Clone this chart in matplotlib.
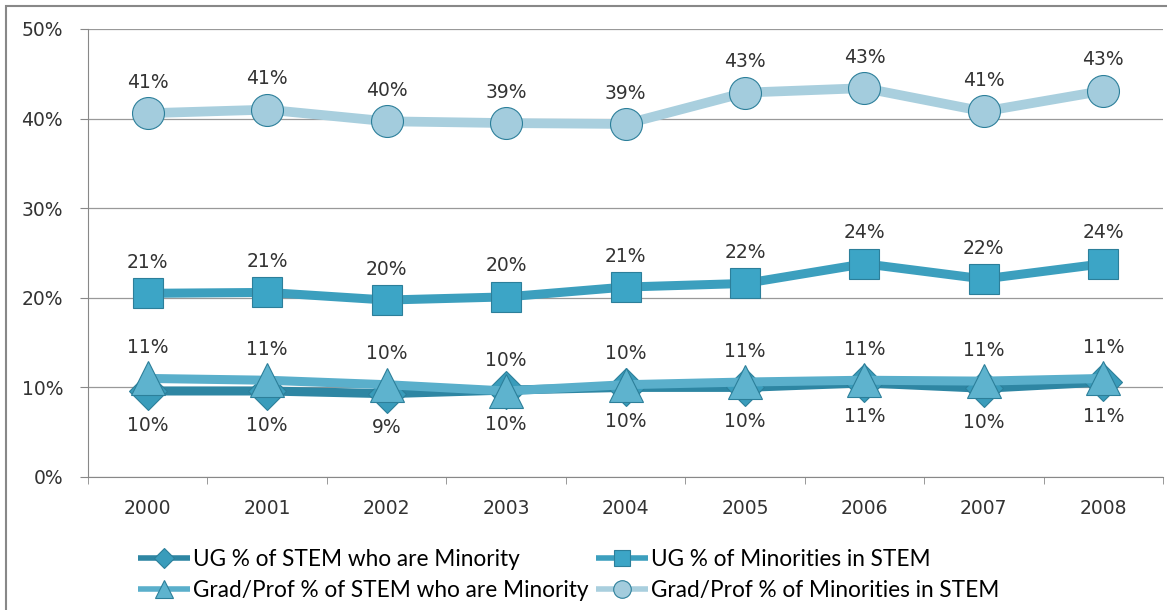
import matplotlib
matplotlib.use("Agg")
import matplotlib.pyplot as plt
from matplotlib.patches import Rectangle
import numpy as np

plt.rcParams['font.family'] = 'DejaVu Sans'

#:::::::::::::::::::::::::::::::::::::::::::::::::::::::::::::::::::::::::::
#     :: Data ::

years = ["2000", "2001", "2002", "2003", "2004", "2005", "2006", "2007", "2008"]

ug_stem_minority = [9.6, 9.6, 9.3, 9.7, 10.0, 10.0, 10.5, 9.9, 10.6]
ug_minorities_stem = [20.5, 20.6, 19.75, 20.1, 21.2, 21.6, 23.8, 22.1, 23.8]
grad_stem_minority = [11.0, 10.8, 10.3, 9.6, 10.3, 10.6, 10.8, 10.7, 11.0]
grad_minorities_stem = [40.6, 41.0, 39.7, 39.5, 39.4, 42.9, 43.4, 40.8, 43.1]

ug_stem_labels = ["10%", "10%", "9%", "10%", "10%", "10%", "11%", "10%", "11%"]
ug_min_labels = ["21%", "21%", "20%", "20%", "21%", "22%", "24%", "22%", "24%"]
grad_stem_labels = ["11%", "11%", "10%", "10%", "10%", "11%", "11%", "11%", "11%"]
grad_min_labels = ["41%", "41%", "40%", "39%", "39%", "43%", "43%", "41%", "43%"]

names = ["UG % of STEM who are Minority", "UG % of Minorities in STEM",
         "Grad/Prof % of STEM who are Minority", "Grad/Prof % of Minorities in STEM"]

#:::::::::::::::::::::::::::::::::::::::::::::::::::::::::::::::::::::::::::
#     :: Plot ::

fig = plt.figure(figsize=(11.67, 6.10), dpi=100)
ax = fig.add_axes([88/1167, 1 - 477/610, 1075/1167, 448/610])

x = np.arange(len(years))
# values, labels, marker, line colour, face colour, marker size, line width, label side
series = [
    (grad_minorities_stem, grad_min_labels, "o", "#A9CFDE", "#A3CCDD", 23, 7, 1),
    (ug_minorities_stem, ug_min_labels, "s", "#3C9FBE", "#3CA5C6", 21, 6.5, 1),
    (ug_stem_minority, ug_stem_labels, "D", "#2E86A3", "#3A9CBB", 19, 6.5, -1),
    (grad_stem_minority, grad_stem_labels, "^", "#5AAFCB", "#5EB3CE", 24, 6.5, 1),
]
handles = {}
for vals, labs, mk, lc, mc, ms, lw, side in series:
    h, = ax.plot(x, vals, color=lc, lw=lw, marker=mk, markersize=ms,
                 markerfacecolor=mc, markeredgecolor="#2C7F9A", markeredgewidth=0.8,
                 solid_capstyle="butt", zorder=3)
    handles[mk] = h
    for xi, v, t in zip(x, vals, labs):
        off = 3.45 if side > 0 else -3.8
        ax.text(xi, v + off, t, ha="center", va="center", fontsize=13.5,
                family="DejaVu Sans", color="#333333", zorder=4)

ax.set_xlim(-0.5, len(years) - 0.5)
ax.set_ylim(0, 50)
ax.set_yticks(np.arange(0, 51, 10))
ax.set_yticklabels(["%d%%" % v for v in range(0, 51, 10)], family="DejaVu Sans")
ax.set_xticks(x)
ax.set_xticklabels(years, family="DejaVu Sans")
ax.set_xticks(np.arange(-0.5, len(years), 1), minor=True)
ax.tick_params(axis="x", which="major", length=0, pad=16, labelsize=13.5, labelcolor="#333333")
ax.tick_params(axis="x", which="minor", length=5, color="#888888")
ax.tick_params(axis="y", length=6, color="#888888", labelsize=13.5, labelcolor="#333333", pad=12)
ax.grid(axis="y", color="#999999", lw=0.9)
ax.set_axisbelow(True)
for s in ["top", "right"]:
    ax.spines[s].set_visible(False)
ax.spines["left"].set_color("#888888")
ax.spines["bottom"].set_color("#888888")

# legend fills column by column, so order it to read row-wise
order = [handles["D"], handles["^"], handles["s"], handles["o"]]
labels = [names[0], names[2], names[1], names[3]]
leg = fig.legend(order, labels, loc="center left", bbox_to_anchor=(138/1167, 1 - 575/610), ncol=2,
                 frameon=False, prop={"family": "Lato", "size": 16.3},
                 handlelength=2.3, columnspacing=0.3, labelspacing=0.45, handletextpad=0.15,
                 borderpad=0, borderaxespad=0, markerscale=0.55)
for h in leg.legend_handles:
    h.set_linewidth(4)

fig.patches.append(Rectangle((6/1167, -0.05), 1.2, 1.05 - 6/610, transform=fig.transFigure,
                             fill=False, edgecolor="#888888", lw=1.5))

fig.savefig("out.png", dpi=100)
